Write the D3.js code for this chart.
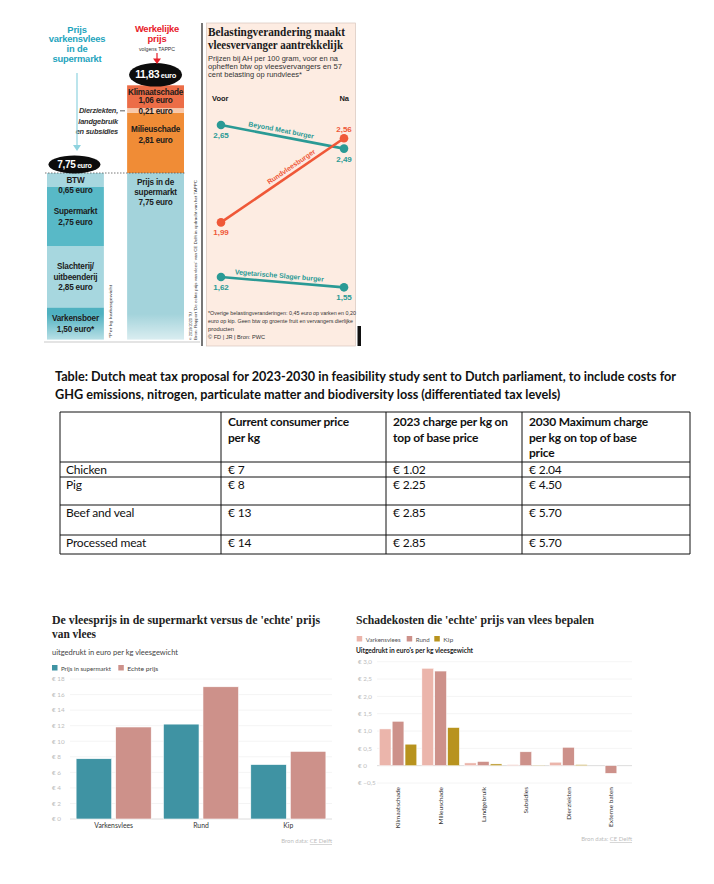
<!DOCTYPE html>
<html>
<head>
<meta charset="utf-8">
<script src="https://cdn.jsdelivr.net/npm/d3@7"></script>
<style>
  body { margin: 0; background: #fff; }
  svg { display: block; }
</style>
</head>
<body>
<svg id="chart" width="714" height="884"></svg>
<script>
// ---- data ----
// infographic: price of a kg of pork, supermarket vs "real" price (euro), bottom to top
const porkParts = ["Varkensboer", "Slachterij/|uitbeenderij", "Supermarkt", "BTW"];
const porkValues = [1.50, 2.85, 2.75, 0.65];
const trueParts = ["Prijs in de|supermarkt", "Milieuschade", "Dierziekten,|landgebruik|en subsidies", "Klimaatschade"];
const trueValues = [7.75, 2.81, 0.21, 1.06];

// slope chart: AH prices per 100 gram, before and after
const burgers = ["Beyond Meat burger", "Rundvleesburger", "Vegetarische Slager burger"];
const priceBefore = [2.65, 1.99, 1.62];
const priceAfter = [2.49, 2.56, 1.55];

// table
const tableHead = ["", "Current consumer price|per kg", "2023 charge per kg on|top of base price", "2030 Maximum charge|per kg on top of base|price"];
const meatTypes = ["Chicken", "Pig", "Beef and veal", "Processed meat"];
const consumerPrice = [7, 8, 13, 14];
const charge2023 = [1.02, 2.25, 2.85, 2.85];
const charge2030 = [2.04, 4.50, 5.70, 5.70];

// supermarket price vs real price per kg
const meats = ["Varkensvlees", "Rund", "Kip"];
const superPrice = [7.75, 12.2, 7.0];
const realPrice = [11.83, 17.0, 8.7];
const priceTicks = [0, 2, 4, 6, 8, 10, 12, 14, 16, 18];

// damage costs per kg
const damageTypes = ["Klimaatschade", "Milieuschade", "Landgebruik", "Subsidies", "Dierziekten", "Externe baten"];
const damagePork = [1.06, 2.81, 0.08, 0.03, 0.10, 0];
const damageBeef = [1.28, 2.73, 0.12, 0.40, 0.53, -0.22];
const damageChicken = [0.62, 1.10, 0.05, 0.01, 0.03, 0];
const damageTicks = [-0.5, 0, 0.5, 1, 1.5, 2, 2.5, 3];

// ---- helpers ----
const svg = d3.select("#chart");
const nl = d3.formatLocale({ decimal: ",", thousands: ".", grouping: [3], currency: ["€", ""] });
const fmt2 = nl.format(".2f");
const fmt1 = nl.format(".1f");
const SANS = "'Liberation Sans', Arial, sans-serif";
const SERIF = "'Liberation Serif', 'Times New Roman', serif";
const LATO = "Lato, 'Open Sans', sans-serif";

function txt(g, x, y, s, o = {}) {
  const t = g.append("text").attr("x", x).attr("y", y).text(s)
    .attr("font-family", o.font || SANS)
    .attr("font-size", o.size || 8)
    .attr("font-weight", o.weight || "normal")
    .attr("fill", o.fill || "#222")
    .attr("text-anchor", o.anchor || "start");
  if (o.italic) t.attr("font-style", "italic");
  if (o.spacing) t.attr("letter-spacing", o.spacing);
  if (o.width) t.attr("textLength", o.width).attr("lengthAdjust", "spacingAndGlyphs");
  if (o.rotate) t.attr("transform", `rotate(${o.rotate},${x},${y})`);
  return t;
}

const defs = svg.append("defs");
defs.append("clipPath").attr("id", "infoClip")
  .append("rect").attr("x", 0).attr("y", 0).attr("width", 200).attr("height", 342);
const fade = defs.append("linearGradient").attr("id", "fade")
  .attr("x1", 0).attr("y1", 0).attr("x2", 0).attr("y2", 1);
fade.append("stop").attr("offset", 0).attr("stop-color", "#fff").attr("stop-opacity", 0);
fade.append("stop").attr("offset", 1).attr("stop-color", "#fff").attr("stop-opacity", 0.7);

// ================= infographic (top left) =================
const info = svg.append("g");
const yInfo = d3.scaleLinear().domain([0, d3.sum(trueValues)]).range([339.6, 85.3]);
const xInfo = d3.scaleBand().domain(["pork", "true"]).range([47, 184]).paddingInner(0.29);
const stackOf = vals => {
  const ends = Array.from(d3.cumsum(vals));
  return vals.map((v, i) => ({ v, y0: ends[i] - v, y1: ends[i] }));
};
const porkStack = stackOf(porkValues);
const trueStack = stackOf(trueValues);
const porkFill = ["#4fb1c0", "#a7d7df", "#58b9c7", "#a7d7df"];
const trueFill = ["#a3d3db", "#f08c36", "#f8c8ab", "#ec6d47"];
const bw = xInfo.bandwidth();

const barsG = info.append("g").attr("clip-path", "url(#infoClip)");
barsG.selectAll("rect.pork").data(porkStack).join("rect").attr("class", "pork")
  .attr("x", xInfo("pork")).attr("width", bw)
  .attr("y", d => yInfo(d.y1)).attr("height", d => yInfo(d.y0) - yInfo(d.y1))
  .attr("fill", (d, i) => porkFill[i]);
barsG.selectAll("rect.true").data(trueStack).join("rect").attr("class", "true")
  .attr("x", xInfo("true")).attr("width", bw)
  .attr("y", d => yInfo(d.y1)).attr("height", d => yInfo(d.y0) - yInfo(d.y1))
  .attr("fill", (d, i) => trueFill[i]);
barsG.append("rect").attr("x", 44).attr("y", 314).attr("width", 145).attr("height", 30).attr("fill", "url(#fade)");
info.append("line").attr("x1", 44).attr("x2", 200).attr("y1", 342).attr("y2", 342)
  .attr("stroke", "#bbb").attr("stroke-width", 0.8);

// labels in the pork bar
const lab = { weight: "bold", size: 8.2, anchor: "middle", fill: "#1b1b1b", spacing: -0.2 };
const cxP = xInfo("pork") + bw / 2, cxT = xInfo("true") + bw / 2;
porkStack.forEach((d, i) => {
  const lines = porkParts[i].split("|").concat([fmt2(d.v) + " euro" + (i === 0 ? "*" : "")]);
  const top = yInfo(d.y1), bot = yInfo(d.y0);
  let y0 = (top + bot) / 2 - (lines.length - 1) * 10.5 / 2 + 3;
  y0 = Math.max(y0, top + 9.5);
  lines.forEach((s, k) => txt(info, cxP, y0 + k * 10.5, s, lab));
});

// labels in the real-price bar
{
  const s0 = trueStack[0];
  trueParts[0].split("|").concat([fmt2(s0.v) + " euro"])
    .forEach((s, k) => txt(info, cxT, yInfo(s0.y1) + 12 + k * 10, s, lab));
  const s1 = trueStack[1];
  [trueParts[1], fmt2(s1.v) + " euro"].forEach((s, k) => txt(info, cxT, yInfo(s1.y1) + 19.5 + k * 10.5, s, lab));
  const s2 = trueStack[2];
  const mid2 = (yInfo(s2.y1) + yInfo(s2.y0)) / 2;
  txt(info, cxT, mid2 + 3.5, fmt2(s2.v) + " euro", lab);
  trueParts[2].split("|").forEach((s, k) =>
    txt(info, 118, mid2 + 3 + k * 10.5, s, { weight: "bold", italic: true, size: 7.4, anchor: "end", fill: "#333", spacing: -0.2 }));
  info.append("line").attr("x1", 120).attr("x2", 125).attr("y1", mid2 + 0.5).attr("y2", mid2 + 0.5)
    .attr("stroke", "#333").attr("stroke-width", 0.8);
  const s3 = trueStack[3];
  const mid3 = (yInfo(s3.y1) + yInfo(s3.y0)) / 2;
  [trueParts[3], fmt2(s3.v) + " euro"].forEach((s, k) => txt(info, cxT, mid3 - 1.5 + k * 8, s, lab));
}

// dotted level line at supermarket price
const shopLevel = yInfo(d3.sum(porkValues));
info.append("line").attr("x1", 45).attr("x2", 186).attr("y1", shopLevel).attr("y2", shopLevel)
  .attr("stroke", "#555").attr("stroke-width", 0.8).attr("stroke-dasharray", "1.5,1.5");

// black bubbles with totals
function bubble(cx, cy, rx, ry, v, big) {
  info.append("ellipse").attr("cx", cx).attr("cy", cy).attr("rx", rx).attr("ry", ry).attr("fill", "#0c0c0c");
  const t = info.append("text").attr("x", cx).attr("y", cy + 3.6).attr("text-anchor", "middle")
    .attr("font-family", SANS).attr("font-weight", "bold").attr("fill", "#fff").attr("letter-spacing", -0.3);
  t.append("tspan").attr("font-size", big).text(fmt2(v));
  t.append("tspan").attr("font-size", big * 0.72).attr("dx", 1.5).text("euro");
}
bubble(cxT, yInfo(d3.sum(trueValues)) - 10.5, 26.5, 11.8, d3.sum(trueValues), 10.5);
bubble(cxP - 1, shopLevel - 8.5, 26, 9, d3.sum(porkValues), 10);

// headings and arrows
const teal = "#1ea4bd";
["Prijs", "varkensvlees", "in de", "supermarkt"].forEach((s, k) =>
  txt(info, 77, 32.5 + k * 9.8, s, { weight: "bold", size: 9.4, anchor: "middle", fill: teal, spacing: -0.2 }));
info.append("line").attr("x1", 77).attr("x2", 77).attr("y1", 73).attr("y2", 146)
  .attr("stroke", "#8fd3df").attr("stroke-width", 1.2);
info.append("path").attr("d", "M73,145 L81,145 L77,151 Z").attr("fill", "#8fd3df");

["Werkelijke", "prijs"].forEach((s, k) =>
  txt(info, 157, 31.5 + k * 10, s, { weight: "bold", size: 9.4, anchor: "middle", fill: "#e8202a", spacing: -0.2 }));
txt(info, 157, 51, "volgens TAPPC", { size: 5.2, anchor: "middle", fill: "#333" });
info.append("line").attr("x1", 157).attr("x2", 157).attr("y1", 53).attr("y2", 60)
  .attr("stroke", "#e8202a").attr("stroke-width", 1.2);
info.append("path").attr("d", "M153,58.5 L161,58.5 L157,64 Z").attr("fill", "#e8202a");

// vertical credits
txt(info, 112, 338, "*Per kg karkasgewicht", { size: 4.3, fill: "#333", rotate: -90, width: 53 });
txt(info, 192, 340, "© 2019/2020 TU", { size: 4.3, fill: "#333", rotate: -90, width: 28 });
txt(info, 197, 340, "Bron: Rapport 'De echte prijs van vlees' van CE Delft in opdracht van het TAPPC",
  { size: 4.3, fill: "#333", rotate: -90, width: 160 });

// ================= slope chart panel =================
const slope = svg.append("g");
slope.append("line").attr("x1", 202).attr("x2", 202).attr("y1", 23).attr("y2", 346)
  .attr("stroke", "#555").attr("stroke-width", 1.6);
slope.append("rect").attr("x", 206.5).attr("y", 23).attr("width", 149).attr("height", 323)
  .attr("fill", "#fdece2").attr("stroke", "#d8c6bc").attr("stroke-width", 0.7);
slope.append("rect").attr("x", 357.5).attr("y", 326).attr("width", 3.5).attr("height", 20).attr("fill", "#111");

txt(slope, 208, 36, "Belastingverandering maakt", { font: SERIF, weight: "bold", size: 12, fill: "#1a1a1a", width: 137 });
txt(slope, 208, 48.5, "vleesvervanger aantrekkelijk", { font: SERIF, weight: "bold", size: 12, fill: "#1a1a1a", width: 135 });
txt(slope, 208, 61, "Prijzen bij AH per 100 gram, voor en na", { size: 7.2, fill: "#333", width: 130 });
txt(slope, 208, 69, "opheffen btw op vleesvervangers en 57", { size: 7.2, fill: "#333", width: 134 });
txt(slope, 208, 77, "cent belasting op rundvlees*", { size: 7.2, fill: "#333", width: 94 });

const xs = d3.scalePoint().domain(["Voor", "Na"]).range([221, 344]);
const ys = d3.scaleLinear().domain([1.62, 2.65]).range([277, 125]);
txt(slope, 212, 100.5, "Voor", { weight: "bold", size: 7.5, fill: "#1a1a1a" });
txt(slope, 349, 100.5, "Na", { weight: "bold", size: 7.5, fill: "#1a1a1a", anchor: "end" });

const slopeColor = ["#2a9a95", "#ef5838", "#2a9a95"];
const labelT = [0.48, 0.6, 0.47];
burgers.forEach((name, i) => {
  const x1 = xs("Voor"), x2 = xs("Na"), y1 = ys(priceBefore[i]), y2 = ys(priceAfter[i]);
  const c = slopeColor[i];
  slope.append("line").attr("x1", x1).attr("y1", y1).attr("x2", x2).attr("y2", y2)
    .attr("stroke", c).attr("stroke-width", 2.6);
  slope.append("circle").attr("cx", x1).attr("cy", y1).attr("r", 4.3).attr("fill", c);
  slope.append("circle").attr("cx", x2).attr("cy", y2).attr("r", 4.3).attr("fill", c);
  // value labels: above when another series sits just below at that end
  [[x1, y1, priceBefore[i], priceBefore], [x2, y2, priceAfter[i], priceAfter]].forEach(([x, y, v, arr]) => {
    const above = arr.some((w, j) => j !== i && w < v && v - w < 0.2);
    txt(slope, x, above ? y - 6.5 : y + 13, fmt2(v), { weight: "bold", size: 8, anchor: "middle", fill: c });
  });
  const ang = Math.atan2(y2 - y1, x2 - x1) * 180 / Math.PI;
  const px = x1 + (x2 - x1) * labelT[i], py = y1 + (y2 - y1) * labelT[i];
  slope.append("text").attr("transform", `translate(${px},${py}) rotate(${ang})`)
    .attr("y", -4).attr("text-anchor", "middle").attr("font-family", SANS)
    .attr("font-weight", "bold").attr("font-size", 6.9).attr("fill", c).text(name);
});

[
  "*Overige belastingveranderingen: 0,45 euro op varken en 0,20",
  "euro op kip. Geen btw op groente fruit en vervangers dierlijke",
  " producten",
  "© FD | JR | Bron: PWC"
].forEach((s, k) => txt(slope, 208, 315 + k * 8, s, { size: 5, fill: "#333", width: [148, 145, 26, 57][k] }));

// ================= table =================
const tbl = svg.append("g");
const t1 = txt(tbl, 55, 381, "Table: Dutch meat tax proposal for 2023-2030 in feasibility study sent to Dutch parliament, to include costs for",
  { font: LATO, weight: "bold", size: 13.2, fill: "#111" });
const t2 = txt(tbl, 55, 398.5, "GHG emissions, nitrogen, particulate matter and biodiversity loss (differentiated tax levels)",
  { font: LATO, weight: "bold", size: 13.2, fill: "#111" });
const squeeze = 621 / t1.node().getComputedTextLength();
t1.attr("textLength", 621).attr("lengthAdjust", "spacingAndGlyphs");
t2.attr("textLength", t2.node().getComputedTextLength() * squeeze).attr("lengthAdjust", "spacingAndGlyphs");

const colX = [60, 221, 386, 522, 690];
const rowY = [412, 462, 477, 505, 535, 554];
colX.forEach(x => tbl.append("line").attr("x1", x).attr("x2", x).attr("y1", rowY[0]).attr("y2", rowY[5])
  .attr("stroke", "#111").attr("stroke-width", 1));
rowY.forEach(y => tbl.append("line").attr("x1", colX[0]).attr("x2", colX[4]).attr("y1", y).attr("y2", y)
  .attr("stroke", "#111").attr("stroke-width", 1));
tableHead.forEach((h, c) => {
  if (!h) return;
  h.split("|").forEach((s, k) => txt(tbl, colX[c] + 7, rowY[0] + 14 + k * 15.5, s,
    { font: LATO, weight: "bold", size: 12, fill: "#111", spacing: -0.2 }));
});
const cellOpt = { font: LATO, size: 12, fill: "#111", spacing: -0.2 };
meatTypes.forEach((m, r) => {
  const y = rowY[r + 1] + 11.5;
  txt(tbl, colX[0] + 6, y, m, cellOpt);
  txt(tbl, colX[1] + 7, y, "€ " + consumerPrice[r], cellOpt);
  txt(tbl, colX[2] + 7, y, "€ " + charge2023[r].toFixed(2), cellOpt);
  txt(tbl, colX[3] + 7, y, "€ " + charge2030[r].toFixed(2), cellOpt);
});

// ================= bottom left: supermarket vs real price =================
const bl = svg.append("g");
txt(bl, 52, 623.5, "De vleesprijs in de supermarkt versus de 'echte' prijs", { font: SERIF, weight: "bold", size: 12.5, fill: "#222", width: 268 });
txt(bl, 52, 638, "van vlees", { font: SERIF, weight: "bold", size: 12.5, fill: "#222", width: 44 });
txt(bl, 52, 654.5, "uitgedrukt in euro per kg vleesgewicht", { font: LATO, size: 6.8, fill: "#444", width: 126 });
const colSuper = "#3f93a3", colReal = "#cd918a";
[["Prijs in supermarkt", colSuper, 52, 50], ["Echte prijs", colReal, 118.3, 31]].forEach(([s, c, x, w]) => {
  bl.append("rect").attr("x", x).attr("y", 665).attr("width", 5.5).attr("height", 5.5).attr("fill", c);
  txt(bl, x + 9, 670.5, s, { font: LATO, size: 6.5, fill: "#444", width: w });
});

const xL = d3.scaleBand().domain(meats).range([70, 332]).paddingInner(0.14).paddingOuter(0.07);
const xL2 = d3.scaleBand().domain(["super", "real"]).range([0, xL.bandwidth()]).paddingInner(0.1);
const yL = d3.scaleLinear().domain([0, 18]).range([819, 679]);
priceTicks.forEach(t => {
  bl.append("line").attr("x1", 70).attr("x2", 332).attr("y1", yL(t)).attr("y2", yL(t))
    .attr("stroke", t === 0 ? "#dcdcdc" : "#f1f1f1").attr("stroke-width", t === 0 ? 1 : 0.8);
  txt(bl, 52, yL(t) + 2.3, "€ " + t, { font: LATO, size: 6.3, fill: "#bdbdbd" });
});
meats.forEach((m, i) => {
  [["super", superPrice[i], colSuper], ["real", realPrice[i], colReal]].forEach(([k, v, c]) => {
    bl.append("rect").attr("x", xL(m) + xL2(k)).attr("width", xL2.bandwidth())
      .attr("y", yL(v)).attr("height", yL(0) - yL(v)).attr("fill", c)
      .attr("stroke", "#fff").attr("stroke-width", 0.6);
  });
  txt(bl, xL(m) + xL.bandwidth() / 2, 828, m, { font: LATO, size: 6.8, fill: "#333", anchor: "middle" });
});
const src1 = bl.append("text").attr("x", 332).attr("y", 843).attr("text-anchor", "end")
  .attr("font-family", LATO).attr("font-size", 6).attr("fill", "#bdbdbd");
src1.append("tspan").text("Bron data: ");
src1.append("tspan").attr("text-decoration", "underline").text("CE Delft");

// ================= bottom right: damage costs =================
const br = svg.append("g");
txt(br, 356, 624, "Schadekosten die 'echte' prijs van vlees bepalen", { font: SERIF, weight: "bold", size: 12.5, fill: "#222", width: 238 });
const colPork = "#ebb5ab", colBeef = "#cd918a", colChicken = "#b8931e";
[["Varkensvlees", colPork, 356.7, 35], ["Rund", colBeef, 406.7, 14], ["Kip", colChicken, 434.3, 10]].forEach(([s, c, x, w]) => {
  br.append("rect").attr("x", x).attr("y", 636).attr("width", 5.5).attr("height", 5.5).attr("fill", c);
  txt(br, x + 9, 641.5, s, { font: LATO, size: 6.5, fill: "#555", width: w });
});
txt(br, 356, 653, "Uitgedrukt in euro's per kg vleesgewicht", { font: LATO, weight: "bold", size: 6.8, fill: "#222", width: 117 });

const xR = d3.scaleBand().domain(damageTypes).range([377, 632]).paddingInner(0.12).paddingOuter(0.054);
const xR2 = d3.scaleBand().domain(["pork", "beef", "chicken"]).range([0, xR.bandwidth()]).paddingInner(0.09);
const yR = d3.scaleLinear().domain([-0.5, 3]).range([783, 661.7]);
damageTicks.forEach(t => {
  br.append("line").attr("x1", 377).attr("x2", 632).attr("y1", yR(t)).attr("y2", yR(t))
    .attr("stroke", t === 0 ? "#dcdcdc" : "#f1f1f1").attr("stroke-width", t === 0 ? 1 : 0.8);
  txt(br, 358, yR(t) + 2.3, "€ " + (t === 0 ? "0" : fmt1(t)), { font: LATO, size: 6.3, fill: "#bdbdbd" });
});
damageTypes.forEach((d, i) => {
  [["pork", damagePork[i], colPork], ["beef", damageBeef[i], colBeef], ["chicken", damageChicken[i], colChicken]]
    .forEach(([k, v, c]) => {
      if (v === 0) return;
      br.append("rect").attr("x", xR(d) + xR2(k)).attr("width", xR2.bandwidth())
        .attr("y", yR(Math.max(0, v))).attr("height", Math.abs(yR(v) - yR(0))).attr("fill", c)
        .attr("stroke", "#fff").attr("stroke-width", 0.5);
    });
  const cx = xR(d) + xR.bandwidth() / 2 + 2.3;
  br.append("text").attr("transform", `translate(${cx},787) rotate(-90)`)
    .attr("text-anchor", "end").attr("font-family", LATO).attr("font-size", 6.5).attr("fill", "#333").text(d);
});
const src2 = br.append("text").attr("x", 632).attr("y", 841).attr("text-anchor", "end")
  .attr("font-family", LATO).attr("font-size", 6).attr("fill", "#bdbdbd");
src2.append("tspan").text("Bron data: ");
src2.append("tspan").attr("text-decoration", "underline").text("CE Delft");
</script>
</body>
</html>
